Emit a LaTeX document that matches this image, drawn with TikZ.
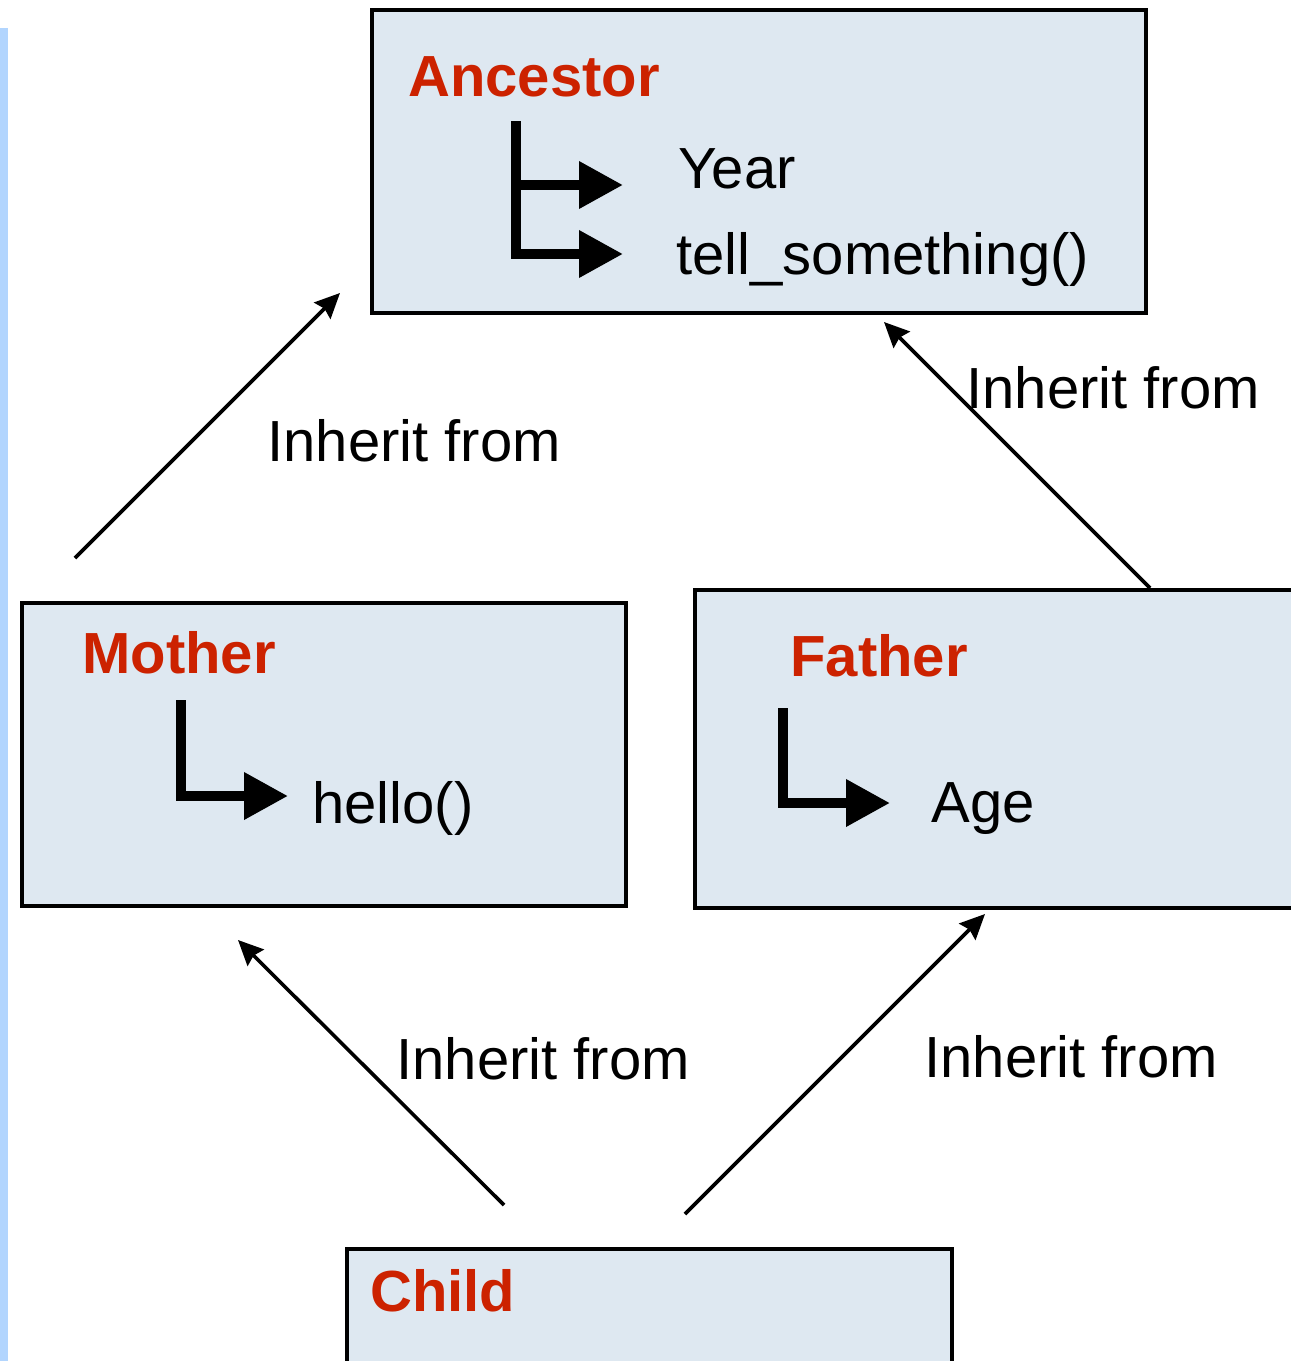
\documentclass[tikz,border=0pt]{standalone}
\usepackage{fontspec}
\setmainfont{Liberation Sans}
\usetikzlibrary{arrows.meta}
\definecolor{boxfill}{RGB}{222,232,241}
\definecolor{titlered}{RGB}{204,34,0}
\definecolor{sidebar}{RGB}{178,213,254}
\tikzset{
  classbox/.style={draw=black, line width=2pt, fill=boxfill, rectangle, anchor=north west, inner sep=0pt, outer sep=0pt},
  title/.style={anchor=base west, inner sep=0pt, text=titlered, font=\fontsize{29}{34}\selectfont\bfseries},
  member/.style={anchor=base west, inner sep=0pt, font=\fontsize{29}{34}\selectfont},
  tree/.style={line width=5pt, line join=miter, -{Triangle[length=22pt,width=22.5pt]}},
  inherit/.style={line width=1.8pt, -{Stealth[length=12.5pt,width=11.5pt,inset=1.5pt]}},
}
\begin{document}
\begin{tikzpicture}[x=0.5pt,y=-0.5pt]
\useasboundingbox (0,0) rectangle (1291,1361);
\clip (0,0) rectangle (1291,1361);
\fill[sidebar] (0,28) rectangle (8,1361);

% class boxes
\node[classbox, minimum width=387pt, minimum height=151.5pt] (anc) at (372,10) {};
\node[classbox, minimum width=302pt, minimum height=151.5pt] (mot) at (22,603) {};
\node[classbox, minimum width=320pt, minimum height=159pt] (fat) at (695,590) {};
\node[classbox, minimum width=302.5pt, minimum height=160pt] (chi) at (347,1249) {};

% titles
\node[title] (ancT) at (408,96) {Ancestor};
\node[title] (motT) at (82,673) {Mother};
\node[title] (fatT) at (790,676) {Father};
\node[title] (chiT) at (370,1311) {Child};

% members
\node[member] (year) at (678,188) {Year};
\node[member] (tell) at (676,274) {tell\_something()};
\node[member] (hello) at (312,823) {hello()};
\node[member] (age) at (931,822) {Age};

% member trees
\draw[tree] (516,121) -- (516,254) -- (623,254);
\draw[tree] (516,185) -- (623,185);
\draw[tree] (181,700) -- (181,796) -- (288,796);
\draw[tree] (783,708) -- (783,803) -- (890,803);

% inheritance connectors
\coordinate (m2a-s) at (75,558);
\coordinate (m2a-e) at (340,293);
\coordinate (f2a-s) at (1150,588);
\coordinate (f2a-e) at (884,322);
\coordinate (c2m-s) at (504,1205);
\coordinate (c2m-e) at (238,940);
\coordinate (c2f-s) at (685,1214);
\coordinate (c2f-e) at (985,914);
\draw[inherit] (m2a-s) -- (m2a-e);
\draw[inherit] (f2a-s) -- (f2a-e);
\draw[inherit] (c2m-s) -- (c2m-e);
\draw[inherit] (c2f-s) -- (c2f-e);

% connector labels
\node[member] (l1) at (267,461) {Inherit from};
\node[member] (l2) at (966,408) {Inherit from};
\node[member] (l3) at (396,1079) {Inherit from};
\node[member] (l4) at (924,1077) {Inherit from};
\end{tikzpicture}
\end{document}
